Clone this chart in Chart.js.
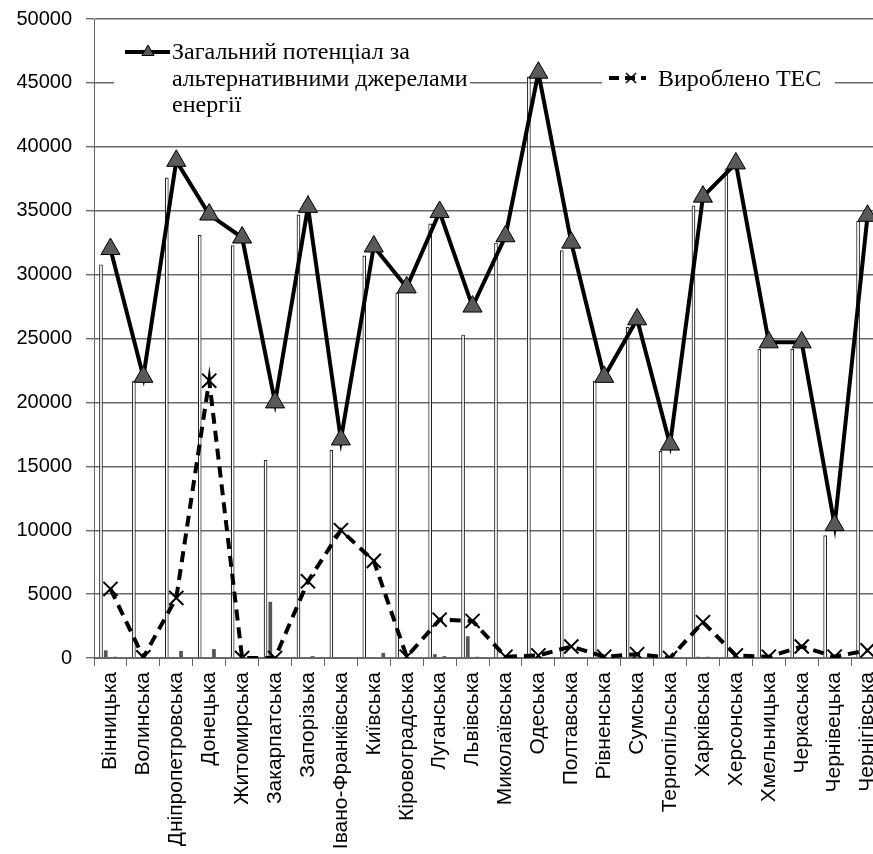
<!DOCTYPE html>
<html>
<head>
<meta charset="utf-8">
<script src="https://cdn.jsdelivr.net/npm/chart.js@4.4.0/dist/chart.umd.min.js"></script>
<style>
    html, body { margin: 0; padding: 0; background: #fff; overflow: hidden; }
    #wrap { width: 884px; height: 854px; }
</style>
</head>
<body>
<div id="wrap"><canvas id="chart" width="884" height="854"></canvas></div>
<script>
const regions = ['Вінницька', 'Волинська', 'Дніпропетровська', 'Донецька', 'Житомирська', 'Закарпатська',
    'Запорізька', 'Івано-Франківська', 'Київська', 'Кіровоградська', 'Луганська', 'Львівська',
    'Миколаївська', 'Одеська', 'Полтавська', 'Рівненська', 'Сумська', 'Тернопільська',
    'Харківська', 'Херсонська', 'Хмельницька', 'Черкаська', 'Чернівецька', 'Чернігівська'];

// total potential (line with triangles)
const totalPotential = [32000, 22000, 38900, 34700, 32900, 20000, 35300, 17100, 32200, 29000, 34900, 27500,
    33000, 45800, 32500, 22000, 26500, 16700, 36100, 38700, 24700, 24700, 10400, 34600];

// produced by TPP (dashed line)
const tesOutput = [5400, 50, 4700, 21700, 0, 0, 6000, 10000, 7600, 100, 3000, 2900,
    100, 200, 900, 100, 300, 0, 2800, 200, 100, 900, 100, 600];

// white bars
const barMain = [30800, 21700, 37600, 33100, 32300, 15500, 34700, 16300, 31500, 28600, 34000, 25300,
    32500, 45500, 31900, 21700, 25900, 16200, 35400, 38300, 24200, 24200, 9600, 34200];

// small dark bars
const barSmallA = [600, 0, 0, 0, 0, 4400, 0, 80, 0, 0, 300, 1700, 0, 0, 0, 0, 0, 0, 100, 0, 0, 0, 0, 0];
const barSmallB = [0, 0, 0, 0, 0, 0, 0, 0, 0, 0, 0, 0, 0, 0, 0, 0, 0, 0, 0, 0, 0, 0, 0, 0];
const barSmallC = [100, 0, 550, 700, 0, 0, 150, 50, 0, 0, 150, 100, 0, 0, 0, 0, 0, 0, 100, 0, 0, 0, 0, 0];
const barSmallD = [0, 0, 0, 0, 0, 0, 0, 0, 400, 0, 0, 0, 0, 0, 0, 0, 0, 0, 0, 0, 0, 0, 0, 0];

const yTicks = [0, 5000, 10000, 15000, 20000, 25000, 30000, 35000, 40000, 45000, 50000];

const legendLines1 = ['Загальний потенціал за', 'альтернативними джерелами', 'енергії'];
const legendLabel2 = 'Вироблено ТЕС';

// legend drawn inside the plot, like the original
const legendPlugin = {
    id: 'insideLegend',
    afterDraw(chart) {
        let ctx = chart.ctx;
        ctx.save();
        ctx.fillStyle = '#fff';
        ctx.fillRect(114, 30, 356, 92);
        ctx.fillRect(602, 62, 233, 34);

        // first item: solid line + triangle
        ctx.strokeStyle = '#000';
        ctx.lineWidth = 4;
        ctx.beginPath();
        ctx.moveTo(125, 52);
        ctx.lineTo(170, 52);
        ctx.stroke();
        let r = 7;
        ctx.beginPath();
        ctx.moveTo(148, 52 - r);
        ctx.lineTo(148 + Math.sin(2 * Math.PI / 3) * r, 52 + r / 2);
        ctx.lineTo(148 - Math.sin(2 * Math.PI / 3) * r, 52 + r / 2);
        ctx.closePath();
        ctx.fillStyle = '#595959';
        ctx.fill();
        ctx.lineWidth = 1;
        ctx.stroke();

        ctx.fillStyle = '#000';
        ctx.font = '24px "Liberation Serif"';
        ctx.textBaseline = 'alphabetic';
        ctx.textAlign = 'left';
        ctx.fillText(legendLines1[0], 172, 59);
        ctx.fillText(legendLines1[1], 172, 86);
        ctx.fillText(legendLines1[2], 172, 112);

        // second item: dashed line + x
        ctx.lineWidth = 4;
        ctx.setLineDash([10, 6]);
        ctx.beginPath();
        ctx.moveTo(609, 78);
        ctx.lineTo(646, 78);
        ctx.stroke();
        ctx.setLineDash([]);
        ctx.lineWidth = 1.5;
        ctx.beginPath();
        ctx.moveTo(626, 73); ctx.lineTo(636, 83);
        ctx.moveTo(636, 73); ctx.lineTo(626, 83);
        ctx.stroke();
        ctx.fillText(legendLabel2, 658, 86);
        ctx.restore();
    }
};

function smallBar(values) {
    return {
        type: 'bar',
        data: values,
        backgroundColor: '#555',
        borderWidth: 0,
        barPercentage: 0.78,
        categoryPercentage: 0.72,
        order: 5
    };
}

let chart = new Chart(document.getElementById('chart'), {
    data: {
        labels: regions,
        datasets: [{
            type: 'line',
            label: legendLines1.join(' '),
            data: totalPotential,
            borderColor: '#000',
            borderWidth: 4,
            pointStyle: 'triangle',
            pointRadius: 11,
            pointBackgroundColor: '#595959',
            pointBorderColor: '#000',
            pointBorderWidth: 1,
            tension: 0,
            order: 0
        }, {
            type: 'line',
            label: legendLabel2,
            data: tesOutput,
            borderColor: '#000',
            borderWidth: 4,
            borderDash: [11, 7],
            pointStyle: 'crossRot',
            pointRadius: 10,
            pointBorderColor: '#000',
            pointBorderWidth: 2,
            tension: 0,
            order: 1
        }, {
            type: 'bar',
            data: barMain,
            backgroundColor: '#fff',
            borderColor: '#222',
            borderWidth: 1.2,
            barPercentage: 0.78,
            categoryPercentage: 0.72,
            order: 5
        },
        smallBar(barSmallA),
        smallBar(barSmallB),
        smallBar(barSmallC),
        smallBar(barSmallD)]
    },
    options: {
        responsive: false,
        animation: false,
        devicePixelRatio: 1,
        layout: {
            autoPadding: false,
            padding: { top: 19, left: 0, right: 0, bottom: 0 }
        },
        plugins: {
            legend: { display: false },
            tooltip: { enabled: false }
        },
        scales: {
            x: {
                grid: {
                    display: true,
                    drawOnChartArea: false,
                    drawTicks: true,
                    offset: true,
                    tickLength: 8,
                    color: '#666'
                },
                border: { color: '#666' },
                ticks: {
                    autoSkip: false,
                    minRotation: 90,
                    maxRotation: 90,
                    padding: 6,
                    color: '#000',
                    font: { family: 'Liberation Sans', size: 21 }
                },
                afterFit: (s) => {
                    s.height = 196;
                    s.paddingLeft = 0;
                    s.paddingRight = 0;
                }
            },
            y: {
                type: 'linear',
                min: 0,
                max: 50000,
                grid: {
                    display: true,
                    drawOnChartArea: true,
                    drawTicks: true,
                    color: '#6a6a6a',
                    lineWidth: 1.4,
                    tickLength: 8
                },
                border: { display: true, color: '#666' },
                ticks: {
                    stepSize: 5000,
                    autoSkip: false,
                    padding: 14,
                    color: '#000',
                    font: { family: 'Liberation Sans', size: 20 },
                    callback: (v) => yTicks.includes(v) ? String(v) : ''
                },
                afterFit: (s) => {
                    s.width = 94;
                    s.paddingTop = 0;
                    s.paddingBottom = 0;
                }
            }
        }
    },
    plugins: [legendPlugin]
});
</script>
</body>
</html>
